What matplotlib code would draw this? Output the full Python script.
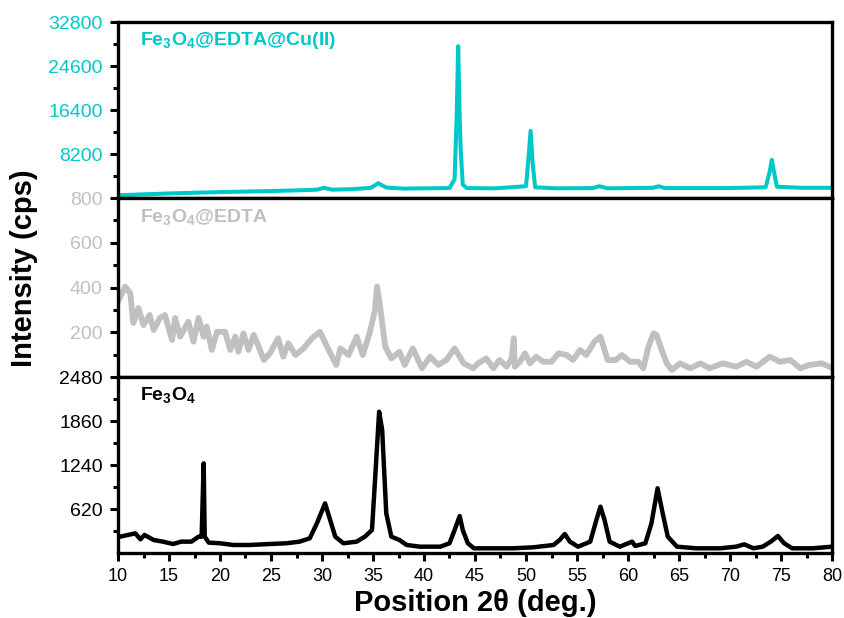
import matplotlib
matplotlib.use("Agg")
import matplotlib.pyplot as plt
from matplotlib import font_manager
from matplotlib.ticker import FixedLocator, MultipleLocator

# ---------------- data ----------------
cu_x = [10, 12, 15, 20, 25, 28, 29.5, 30.2, 31, 33, 34.8, 35.5, 36.3, 38, 40, 42.5,
        43.0, 43.2, 43.35, 43.5, 43.6, 43.8, 44.2, 47, 50.0, 50.2, 50.45, 50.65, 50.9,
        53, 56.5, 57.2, 58, 62.5, 63.0, 63.6, 70, 73.5, 73.9, 74.1, 74.3, 74.6, 77, 80]
cu_y = [500, 650, 850, 1100, 1300, 1450, 1550, 1900, 1550, 1650, 1900, 2750, 1950, 1750, 1800, 1850,
        3500, 15000, 28300, 14900, 8900, 2500, 1850, 1800, 2200, 6500, 12500, 6500, 2000,
        1800, 1850, 2200, 1800, 1900, 2200, 1850, 1850, 2000, 5000, 7100, 5000, 2100, 1900, 1900]

edta_x = [10.0, 10.7, 11.2, 11.5, 12.0, 12.5, 13.1, 13.5, 14.1, 14.6, 15.3, 15.6, 16.1, 16.9,
          17.4, 17.9, 18.4, 18.7, 19.2, 19.7, 20.5, 21.0, 21.5, 21.8, 22.3, 22.8, 23.3, 23.8,
          24.3, 24.9, 25.7, 26.2, 26.7, 27.4, 28.2, 29.0, 29.8, 30.5, 31.4, 31.8, 32.6, 33.4,
          34.0, 34.7, 35.2, 35.4, 35.7, 36.2, 36.8, 37.6, 38.1, 38.9, 39.8, 40.6, 41.4, 42.2,
          43.0, 43.9, 44.8, 45.3, 46.1, 46.8, 47.4, 48.1, 48.6, 48.8, 48.9, 49.4, 49.9, 50.4,
          51.0, 51.7, 52.5, 53.2, 54.0, 54.6, 55.3, 55.9, 56.7, 57.3, 57.6, 58.0, 58.8, 59.4,
          60.2, 61.0, 61.5, 62.0, 62.5, 62.8, 63.3, 63.8, 64.3, 65.1, 66.1, 67.1, 68.0, 69.3,
          70.6, 71.6, 72.6, 73.9, 74.9, 75.9, 76.9, 77.8, 79.0, 80.0]
edta_y = [337, 404, 375, 241, 308, 232, 277, 210, 264, 277, 165, 264, 180, 247,
          158, 264, 180, 225, 121, 202, 202, 121, 180, 113, 195, 121, 188, 135,
          76, 106, 173, 91, 151, 98, 128, 173, 202, 135, 54, 128, 98, 180,
          98, 202, 300, 404, 314, 135, 83, 113, 54, 128, 39, 91, 54, 76,
          128, 61, 39, 61, 83, 39, 76, 46, 83, 173, 46, 68, 106, 61,
          91, 68, 68, 106, 98, 76, 121, 98, 158, 180, 135, 76, 76, 98,
          68, 68, 39, 135, 195, 188, 121, 61, 31, 61, 39, 61, 39, 61,
          46, 68, 46, 91, 68, 76, 39, 54, 61, 40]

fe_x = [10.0, 10.2, 11.7, 12.2, 12.6, 13.5, 14.4, 15.4, 16.2, 17.2, 17.9, 18.2, 18.4, 18.5,
        18.9, 20.0, 21.3, 22.9, 24.9, 26.5, 27.8, 28.8, 29.5, 30.3, 30.8, 31.3, 32.1, 33.4,
        34.2, 34.9, 35.2, 35.6, 35.9, 36.3, 36.8, 37.6, 38.3, 39.6, 41.6, 42.5, 43.0, 43.5,
        43.8, 44.3, 44.9, 46.8, 48.7, 50.7, 52.7, 53.3, 53.8, 54.3, 55.1, 56.3, 56.9, 57.3,
        57.7, 58.2, 59.2, 60.4, 60.7, 61.7, 62.3, 62.9, 63.4, 63.9, 64.8, 66.7, 69.0, 70.6,
        71.4, 72.3, 73.2, 74.0, 74.7, 75.3, 76.1, 78.1, 80.0]
fe_y = [240, 230, 277, 193, 254, 183, 160, 127, 160, 160, 230, 230, 1264, 230,
        146, 137, 113, 113, 127, 137, 160, 207, 418, 700, 465, 230, 137, 160,
        230, 324, 1029, 1991, 1733, 559, 230, 183, 113, 89, 89, 137, 324, 521,
        324, 137, 66, 66, 66, 80, 113, 183, 268, 160, 89, 160, 465, 653,
        465, 160, 89, 160, 99, 137, 418, 912, 559, 230, 89, 66, 66, 89,
        122, 66, 89, 160, 240, 137, 66, 66, 89]

x_ticks = [10, 15, 20, 25, 30, 35, 40, 45, 50, 55, 60, 65, 70, 75, 80]
cu_ticks = [8200, 16400, 24600, 32800]
edta_ticks = [200, 400, 600, 800]
fe_ticks = [620, 1240, 1860, 2480]

# ---------------- style ----------------
names = {f.name for f in font_manager.fontManager.ttflist}
base = 'Liberation Sans' if 'Liberation Sans' in names else 'DejaVu Sans'
narrow = 'Liberation Sans Narrow' if 'Liberation Sans Narrow' in names else base
plt.rcParams['font.family'] = [base, 'DejaVu Sans']
plt.rcParams['mathtext.fontset'] = 'custom'
plt.rcParams['mathtext.rm'] = base + ':bold'
plt.rcParams['mathtext.it'] = base + ':bold'
plt.rcParams['mathtext.bf'] = base + ':bold'
plt.rcParams['mathtext.default'] = 'regular'

CYAN = '#00C8C8'
GRAY = '#C0C0C0'
BLACK = '#000000'

fig = plt.figure(figsize=(8.44, 6.18), dpi=100)
L, W = 118 / 844, 714 / 844
def yb(top, bot):
    return [L, 1 - bot / 618, W, (bot - top) / 618]

ax_cu = fig.add_axes(yb(22, 198))
ax_ed = fig.add_axes(yb(198, 377))
ax_fe = fig.add_axes(yb(377, 553))

panels = [
    (ax_cu, cu_x, cu_y, CYAN, 32800, cu_ticks, 4100, r'Fe$_3$O$_4$@EDTA@Cu(II)', 2.9),
    (ax_ed, edta_x, edta_y, GRAY, 800, edta_ticks, 100, r'Fe$_3$O$_4$@EDTA', 4.2),
    (ax_fe, fe_x, fe_y, BLACK, 2480, fe_ticks, 310, r'Fe$_3$O$_4$', 3.2),
]

for ax, xs, ys, col, ymax, ticks, minor, label, lw in panels:
    ax.plot(xs, ys, color=col, lw=lw, solid_joinstyle='round', solid_capstyle='round')
    ax.set_xlim(10, 80)
    ax.set_ylim(0, ymax)
    ax.yaxis.set_major_locator(FixedLocator(ticks))
    ax.yaxis.set_minor_locator(FixedLocator([t - minor for t in ticks]))
    ax.tick_params(axis='y', which='major', direction='out', length=6, width=2.2,
                   labelsize=14, labelcolor=col, pad=5)
    ax.tick_params(axis='y', which='minor', direction='out', length=3.5, width=2.2)
    for s in ax.spines.values():
        s.set_linewidth(2.4)
    ax.text(0.031, 0.895, label, transform=ax.transAxes, color=col, fontsize=14,
            fontweight='bold', ha='left', va='center')

for ax in (ax_cu, ax_ed):
    ax.tick_params(axis='x', which='both', bottom=False, labelbottom=False)

ax_fe.xaxis.set_major_locator(FixedLocator(x_ticks))
ax_fe.xaxis.set_minor_locator(MultipleLocator(2.5))
ax_fe.set_xticklabels([str(v) for v in x_ticks])
ax_fe.tick_params(axis='x', which='major', direction='out', length=6, width=2.2,
                  labelsize=13, pad=5)
ax_fe.tick_params(axis='x', which='minor', direction='out', length=3.5, width=2.2)
for t in ax_fe.get_xticklabels():
    t.set_fontfamily([narrow, base])

fig.text(24 / 844, 1 - 268 / 618, 'Intensity (cps)', rotation=90, ha='center', va='center',
         fontsize=21, fontweight='bold')
fig.text(475 / 844, 1 - 603 / 618, 'Position 2θ (deg.)', ha='center', va='center',
         fontsize=21, fontweight='bold', family=[narrow, base, 'DejaVu Sans'])

fig.savefig('out.png', dpi=100)
